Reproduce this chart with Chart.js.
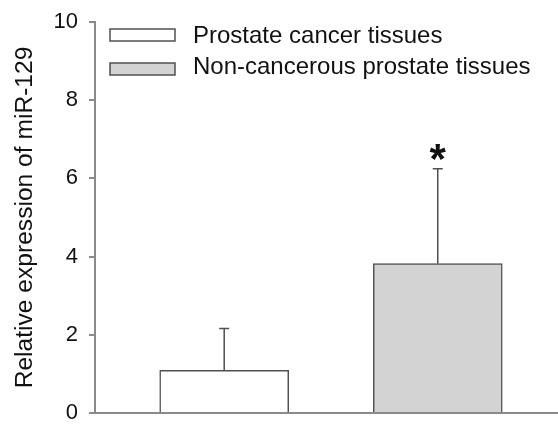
<!DOCTYPE html>
<html>
<head>
<meta charset="utf-8">
<script src="https://cdn.jsdelivr.net/npm/chart.js@4.4.0/dist/chart.umd.min.js"></script>
<style>
  html, body { margin: 0; padding: 0; background: #fff; }
  #wrap { width: 558px; height: 435px; position: relative; }
</style>
</head>
<body>
<div id="wrap"><canvas id="chart"></canvas></div>
<script>
// data
const groups = ['Prostate cancer tissues', 'Non-cancerous prostate tissues'];
const groupX = [1, 2];
const means = [1.09, 3.82];
const sdUpper = [1.07, 2.43];
const markers = ['', '*'];
const yTicks = [0, 2, 4, 6, 8, 10];

const fills = ['#ffffff', '#d3d3d3'];
const edge = '#505050';
const axisGrey = '#8a8a8a';
const FONT = '"Liberation Sans", Arial, sans-serif';

// upper-only error bars + significance star
const errorBars = {
    id: 'errorBars',
    afterDatasetsDraw(chart) {
        const meta = chart.getDatasetMeta(0);
        const y = chart.scales.y;
        const ctx = chart.ctx;
        ctx.save();
        ctx.strokeStyle = edge;
        ctx.lineWidth = 1.5;
        meta.data.forEach((bar, i) => {
            const top = y.getPixelForValue(means[i] + sdUpper[i]);
            ctx.beginPath();
            ctx.moveTo(bar.x, bar.y);
            ctx.lineTo(bar.x, top);
            ctx.moveTo(bar.x - 5, top);
            ctx.lineTo(bar.x + 5, top);
            ctx.stroke();
            if (markers[i]) {
                ctx.fillStyle = '#111';
                ctx.font = 'bold 42px ' + FONT;
                ctx.textAlign = 'center';
                ctx.textBaseline = 'alphabetic';
                ctx.fillText(markers[i], bar.x, top + 4);
            }
        });
        ctx.restore();
    }
};

// legend drawn inside the plot, top left
const legendBoxes = {
    id: 'legendBoxes',
    afterDraw(chart) {
        const {ctx, chartArea} = chart;
        ctx.save();
        ctx.font = '24px ' + FONT;
        ctx.textBaseline = 'middle';
        ctx.textAlign = 'left';
        ctx.lineWidth = 1.5;
        ctx.strokeStyle = edge;
        groups.forEach((g, i) => {
            const boxMid = chartArea.top + 13 + i * 34;
            ctx.fillStyle = fills[i];
            ctx.fillRect(chartArea.left + 15, boxMid - 6, 65, 12);
            ctx.strokeRect(chartArea.left + 15, boxMid - 6, 65, 12);
            ctx.fillStyle = '#111';
            ctx.fillText(g, chartArea.left + 98, chartArea.top + 14 + i * 31);
        });
        ctx.restore();
    }
};

const ctx = document.getElementById('chart').getContext('2d');
new Chart(ctx, {
    type: 'bar',
    data: {
        datasets: [{
            data: groupX.map((x, i) => ({ x: x, y: means[i] })),
            backgroundColor: fills,
            borderColor: edge,
            borderWidth: 1.5,
            barThickness: 129
        }]
    },
    options: {
        responsive: true,
        maintainAspectRatio: false,
        animation: false,
        events: [],
        layout: { padding: { top: 21, bottom: 11, left: 0, right: 0 } },
        plugins: {
            legend: { display: false },
            tooltip: { enabled: false }
        },
        scales: {
            x: {
                type: 'linear',
                offset: false,
                min: 0.395,
                max: 2.563,
                grid: { display: false, offset: false },
                ticks: { display: false },
                border: { display: true, color: axisGrey, width: 2 }
            },
            y: {
                min: 0,
                max: 10,
                afterBuildTicks: (scale) => { scale.ticks = yTicks.map(v => ({ value: v })); },
                afterFit: (scale) => { scale.width = 95; },
                grid: { drawOnChartArea: false, drawTicks: true, tickLength: 6, color: axisGrey, lineWidth: 2 },
                border: { display: true, color: axisGrey, width: 2 },
                ticks: {
                    padding: 11,
                    color: '#111',
                    font: { family: FONT, size: 22, lineHeight: 1 }
                },
                title: {
                    display: true,
                    text: 'Relative expression of miR-129',
                    color: '#111',
                    padding: { top: 10, bottom: 0 },
                    font: { family: FONT, size: 24.6 }
                }
            }
        }
    },
    plugins: [errorBars, legendBoxes]
});
</script>
</body>
</html>
